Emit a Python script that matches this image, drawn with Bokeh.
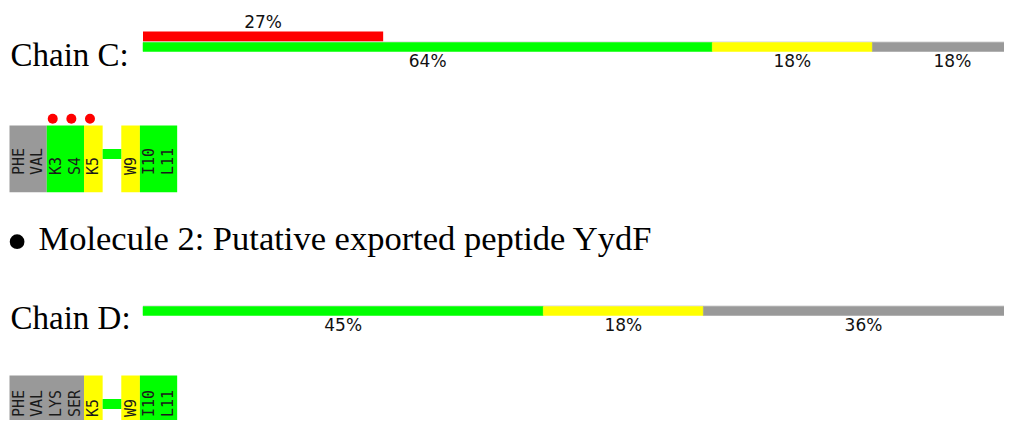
import math
from bokeh.plotting import figure
from bokeh.models import Range1d
from bokeh.core.properties import value
from bokeh.embed import file_html
from bokeh.resources import INLINE

# ---------------- data ----------------
chain_c_quality = [64, 18, 18]          # percent of residues: good / medium / unmodelled
chain_c_quality_labels = ["64%", "18%", "18%"]
chain_c_outlier = 27                    # percent with outliers
chain_c_outlier_label = "27%"

chain_d_quality = [45, 18, 36]
chain_d_quality_labels = ["45%", "18%", "36%"]

quality_colors = ["#00ff00", "#ffff00", "#999999"]

chain_c_residues = ["PHE", "VAL", "K3", "S4", "K5", "", "W9", "I10", "L11"]
chain_c_res_class = [2, 2, 0, 0, 1, -1, 1, 0, 0]    # -1 = gap (connector)
chain_c_outlier_res = ["K3", "S4", "K5"]

chain_d_residues = ["PHE", "VAL", "LYS", "SER", "K5", "", "W9", "I10", "L11"]
chain_d_res_class = [2, 2, 2, 2, 1, -1, 1, 0, 0]
chain_d_outlier_res = []

chain_labels = ["Chain C:", "Chain D:"]
molecule_bullet = "•"
molecule_label = "Molecule 2: Putative exported peptide YydF"

# ---------------- layout ----------------
W, H = 1004, 420
p = figure(width=W, height=H, output_backend="svg", toolbar_location=None,
           x_range=Range1d(0, W), y_range=Range1d(H, 0),
           min_border=0)
p.axis.visible = False
p.grid.visible = False
p.outline_line_color = None
p.background_fill_color = "white"

BAR_X0, BAR_W = 142.5, 889.5        # pixel extent of 0..100 %
RES_X0, RES_W = 9.0, 18.63          # pixel start / width of one residue box
p.extra_x_ranges = {
    "pct": Range1d((0 - BAR_X0) / BAR_W * 100, (W - BAR_X0) / BAR_W * 100),
    "res": Range1d((0 - RES_X0) / RES_W, (W - RES_X0) / RES_W),
}

serif = value("Liberation Serif")
sans = value("DejaVu Sans")
mono = value("DejaVu Sans Mono")

BL = 0.39   # baseline correction (em) for the svg text placement
PCT_FS = 17
SERIF_FS = 33


def cumulative(vals):
    out, s = [], 0
    for v in vals:
        out.append(s)
        s += v
    return out


def quality_bar(vals, labels, top, label_base):
    lefts = cumulative(vals)
    rights = [l + v for l, v in zip(lefts, vals)]
    # thin light top rule
    p.quad(left=[0], right=[100], top=[top], bottom=[top + 1],
           fill_color="#d4d4d4", line_color=None, x_range_name="pct")
    p.quad(left=lefts, right=rights, top=[top + 1] * len(vals), bottom=[top + 10] * len(vals),
           fill_color=quality_colors[:len(vals)], line_color=quality_colors[:len(vals)],
           line_width=0.5, x_range_name="pct")
    p.text(x=[(l + r) / 2 for l, r in zip(lefts, rights)],
           y=[label_base - BL * PCT_FS] * len(vals),
           text=labels, text_font=sans, text_font_size=f"{PCT_FS}px", text_color="#111111",
           text_align="center", text_baseline="alphabetic", x_range_name="pct")


def residue_strip(names, classes, outliers, top, text_off):
    # merge consecutive residues of same class into single blocks
    runs = []
    for i, c in enumerate(classes):
        if runs and runs[-1][2] == c:
            runs[-1][1] = i + 1
        else:
            runs.append([i, i + 1, c])
    blocks = [r for r in runs if r[2] >= 0]
    gaps = [r for r in runs if r[2] < 0]
    p.quad(left=[r[0] for r in blocks], right=[r[1] for r in blocks],
           top=[top] * len(blocks), bottom=[top + 66.7] * len(blocks),
           fill_color=[quality_colors[r[2]] for r in blocks], line_color=None,
           x_range_name="res")
    if gaps:
        p.quad(left=[r[0] for r in gaps], right=[r[1] for r in gaps],
               top=[top + 23.5] * len(gaps), bottom=[top + 33.5] * len(gaps),
               fill_color="#00ff00", line_color=None, x_range_name="res")
    xs = [i + 0.5 for i, c in enumerate(classes) if c >= 0]
    txt = [n for n, c in zip(names, classes) if c >= 0]
    p.text(x=xs, y=[top + text_off] * len(xs), text=txt, angle=math.pi / 2,
           text_font=mono, text_font_size="15px", text_color="#1a1a1a",
           text_align="left", text_baseline="middle", x_range_name="res")
    ox = [names.index(r) + 0.32 for r in outliers]
    if ox:
        p.scatter(x=ox, y=[top - 6.7] * len(ox), size=10, marker="circle",
                  fill_color="#ff0000", line_color=None, x_range_name="res")


# Chain C
p.text(x=[10], y=[67 - BL * SERIF_FS], text=[chain_labels[0]], text_font=serif,
       text_font_size=f"{SERIF_FS}px", text_color="black", text_baseline="alphabetic")
p.quad(left=[0], right=[chain_c_outlier], top=[31], bottom=[41],
       fill_color="#ff0000", line_color=None, x_range_name="pct")
p.text(x=[chain_c_outlier / 2], y=[28.3 - BL * PCT_FS], text=[chain_c_outlier_label],
       text_font=sans, text_font_size=f"{PCT_FS}px", text_color="#111111",
       text_align="center", text_baseline="alphabetic", x_range_name="pct")
quality_bar(chain_c_quality, chain_c_quality_labels, 41, 66.7)
residue_strip(chain_c_residues, chain_c_res_class, chain_c_outlier_res, 125, 49.5)

# Molecule 2 heading
p.text(x=[16.7], y=[240], text=[molecule_bullet], text_font=serif, text_font_size="62px",
       text_color="black", text_align="center", text_baseline="middle")
p.text(x=[38], y=[251 - BL * 34.5], text=[molecule_label], text_font=serif,
       text_font_size="34.5px", text_color="black", text_baseline="alphabetic")

# Chain D
p.text(x=[10], y=[330 - BL * SERIF_FS], text=[chain_labels[1]], text_font=serif,
       text_font_size=f"{SERIF_FS}px", text_color="black", text_baseline="alphabetic")
quality_bar(chain_d_quality, chain_d_quality_labels, 305, 331)
residue_strip(chain_d_residues, chain_d_res_class, chain_d_outlier_res, 375, 41.5)

open("out.html", "w").write(file_html(p, INLINE))
